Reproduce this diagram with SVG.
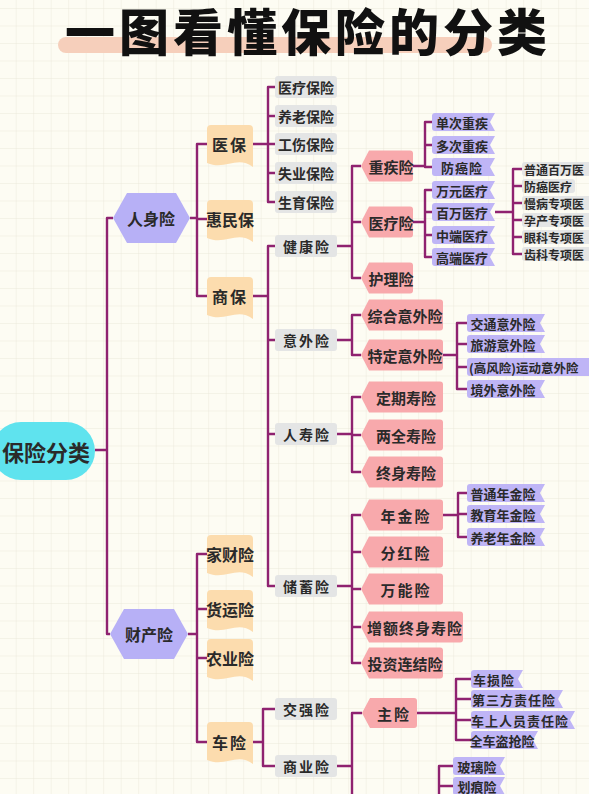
<svg xmlns="http://www.w3.org/2000/svg" xmlns:xlink="http://www.w3.org/1999/xlink" width="589" height="794" viewBox="0 0 589 794">
<style>
.c{fill:none;stroke:#8f2270;stroke-width:2.4;stroke-linejoin:round;stroke-linecap:butt}
.t{font-family:"Noto Sans CJK SC","Noto Sans",sans-serif;font-weight:700;fill:#2a2a2a;text-anchor:middle;dominant-baseline:central}
.s{text-anchor:start}
.f16{font-size:16px}
.f15{font-size:15px}
.f14{font-size:14px}
.f13{font-size:13px}
.f12{font-size:12px}
.gray{fill:#e4e5e5}
.pink{fill:#f8a9ac}
.pur{fill:#bfb5f6}
.org{fill:#fcdcae}
.hex{fill:#b7b0f6}
</style>
<defs>
<pattern id="grid" width="17.5" height="17.5" patternUnits="userSpaceOnUse" x="15.7" y="8">
<path d="M0 0H17.5M0 0V17.5" fill="none" stroke="#ece9dc" stroke-width="1"/>
</pattern>
<path id="p63" d="M3 0H63L58 9L63 18H3Q0 18 0 15V3Q0 0 3 0Z"/>
<path id="p78" d="M3 0H78L73 9L78 18H3Q0 18 0 15V3Q0 0 3 0Z"/>
<path id="p52" d="M3 0H52L47 9L52 18H3Q0 18 0 15V3Q0 0 3 0Z"/>
<path id="k52" d="M8 0H49Q52 0 52 3V28Q52 31 49 31H8L0 15.5Z"/>
<path id="k82" d="M8 0H79Q82 0 82 3V28Q82 31 79 31H8L0 15.5Z"/>
<path id="doc" d="M0 4Q0 0 4 0H42Q46 0 46 4V42C30 30 18 46 0 38Z"/>
<rect id="g62" width="62" height="22" rx="3"/>
</defs>
<rect width="589" height="794" fill="#fdfcf3"/>
<rect width="589" height="794" fill="url(#grid)"/>

<g id="title">
<rect x="58" y="37" width="434" height="16" rx="8" fill="#f6cfbb"/>
<text x="308" y="51" font-family="'Noto Sans CJK SC',sans-serif" font-weight="900" font-size="50" letter-spacing="4" text-anchor="middle" fill="#111">一图看懂保险的分类</text>
</g>

<g id="connectors">
<path class="c" d="M95 450H107M113 218H107V634H110"/>
<path class="c" d="M190 218H197M207 144H197V296H207M197 219H207"/>
<path class="c" d="M253 144H268M275 87H268V202H275M268 116H275M268 144H275M268 173H275"/>
<path class="c" d="M253 296H268M275 246H268V586H275M268 340H275M268 434H275"/>
<path class="c" d="M337 246H352M361 166H352V278H361M352 222H361"/>
<path class="c" d="M413 166H425M432 122H425V167H432M425 145H432"/>
<path class="c" d="M413 222H425M432 190H425V257H432M425 212H432M425 235H432"/>
<path class="c" d="M495 212H513M522 169H513V254H522M513 186H522M513 203H522M513 220H522M513 237H522"/>
<path class="c" d="M337 340H352M361 315H352V355H361"/>
<path class="c" d="M443 355H457M467 323H457V389H467M457 344H467M457 367H467"/>
<path class="c" d="M337 434H352M361 397H352V472H361M352 435H361"/>
<path class="c" d="M337 586H352M361 515H352V663H361M352 552H361M352 589H361M352 627H361"/>
<path class="c" d="M443 515H458M467 493H458V537H467M458 514H467"/>
<path class="c" d="M188 634H197M207 554H197V742H207M197 609H207M197 658H207"/>
<path class="c" d="M253 742H263M275 709H263V766H275"/>
<path class="c" d="M337 766H352M362 713H352V800"/>
<path class="c" d="M417 713H456M471 679H456V740H471M456 699H471M456 720H471"/>
<path class="c" d="M453 766H439V800M439 786H453"/>
</g>

<g id="root">
<rect x="-8" y="422" width="103" height="58" rx="29" fill="#5fe3ee"/>
<text class="t" x="46" y="451" font-size="22">保险分类</text>
</g>

<g id="renshen">
<polygon class="hex" points="113,218 127,193 176,193 190,218 176,243 127,243"/>
<text class="t f16" x="151" y="218">人身险</text>
</g>
<g id="caichan">
<polygon class="hex" points="110,634 124,609 174,609 188,634 174,659 124,659"/>
<text class="t f16" x="149" y="634">财产险</text>
</g>

<g id="yibao"><use href="#doc" class="org" x="207" y="125"/><text class="t f16" x="230" y="144" letter-spacing="2">医保</text></g>
<g id="huiminbao"><use href="#doc" class="org" x="207" y="200"/><text class="t f16" x="230" y="219">惠民保</text></g>
<g id="shangbao"><use href="#doc" class="org" x="207" y="277"/><text class="t f16" x="230" y="296" letter-spacing="2">商保</text></g>
<g id="jiacai"><use href="#doc" class="org" x="207" y="535"/><text class="t f16" x="230" y="554">家财险</text></g>
<g id="huoyun"><use href="#doc" class="org" x="207" y="590"/><text class="t f16" x="230" y="609">货运险</text></g>
<g id="nongye"><use href="#doc" class="org" x="207" y="639"/><text class="t f16" x="230" y="658">农业险</text></g>
<g id="chexian"><use href="#doc" class="org" x="207" y="722"/><text class="t f16" x="230" y="742" letter-spacing="2">车险</text></g>

<g id="yiliaobaoxian"><use href="#g62" class="gray" x="275" y="76"/><text class="t f14" x="306" y="87">医疗保险</text></g>
<g id="yanglaobaoxian"><use href="#g62" class="gray" x="275" y="105"/><text class="t f14" x="306" y="116">养老保险</text></g>
<g id="gongshang"><use href="#g62" class="gray" x="275" y="133"/><text class="t f14" x="306" y="144">工伤保险</text></g>
<g id="shiye"><use href="#g62" class="gray" x="275" y="162"/><text class="t f14" x="306" y="173">失业保险</text></g>
<g id="shengyu"><use href="#g62" class="gray" x="275" y="191"/><text class="t f14" x="306" y="202">生育保险</text></g>
<g id="jiankang"><use href="#g62" class="gray" x="275" y="235"/><text class="t f14" x="307" y="246" letter-spacing="2">健康险</text></g>
<g id="yiwai"><use href="#g62" class="gray" x="275" y="329"/><text class="t f14" x="307" y="340" letter-spacing="2">意外险</text></g>
<g id="renshou"><use href="#g62" class="gray" x="275" y="423"/><text class="t f14" x="307" y="434" letter-spacing="2">人寿险</text></g>
<g id="chuxu"><use href="#g62" class="gray" x="275" y="575"/><text class="t f14" x="307" y="586" letter-spacing="2">储蓄险</text></g>
<g id="jiaoqiang"><use href="#g62" class="gray" x="275" y="698"/><text class="t f14" x="307" y="709" letter-spacing="2">交强险</text></g>
<g id="shangye"><use href="#g62" class="gray" x="275" y="755"/><text class="t f14" x="307" y="766" letter-spacing="2">商业险</text></g>

<g id="zhongji"><use href="#k52" class="pink" x="361" y="150.5"/><text class="t f15" x="391" y="166">重疾险</text></g>
<g id="yiliaoxian"><use href="#k52" class="pink" x="361" y="206.5"/><text class="t f15" x="391" y="222">医疗险</text></g>
<g id="huli"><use href="#k52" class="pink" x="361" y="262.5"/><text class="t f15" x="391" y="278">护理险</text></g>
<g id="zonghe"><use href="#k82" class="pink" x="361" y="299.5"/><text class="t f15" x="405" y="315">综合意外险</text></g>
<g id="teding"><use href="#k82" class="pink" x="361" y="339.5"/><text class="t f15" x="405" y="355">特定意外险</text></g>
<g id="dingqi"><use href="#k82" class="pink" x="361" y="381.5"/><text class="t f15" x="406" y="397">定期寿险</text></g>
<g id="liangquan"><use href="#k82" class="pink" x="361" y="419.5"/><text class="t f15" x="406" y="435">两全寿险</text></g>
<g id="zhongshen"><use href="#k82" class="pink" x="361" y="456.5"/><text class="t f15" x="406" y="472">终身寿险</text></g>
<g id="nianjin"><use href="#k82" class="pink" x="361" y="499.5"/><text class="t f15" x="406" y="515" letter-spacing="2">年金险</text></g>
<g id="fenhong"><use href="#k82" class="pink" x="361" y="536.5"/><text class="t f15" x="406" y="552" letter-spacing="2">分红险</text></g>
<g id="wanneng"><use href="#k82" class="pink" x="361" y="573.5"/><text class="t f15" x="406" y="589" letter-spacing="2">万能险</text></g>
<g id="zenge"><path class="pink" d="M369 611.5H460Q463 611.5 463 614.5V639.5Q463 642.5 460 642.5H369L361 627Z"/><text class="t f15" x="415" y="627" letter-spacing="1">增额终身寿险</text></g>
<g id="touzi"><use href="#k82" class="pink" x="361" y="647.5"/><text class="t f15" x="405" y="663">投资连结险</text></g>
<g id="zhuxian"><path class="pink" d="M370 698H414Q417 698 417 701V725Q417 728 414 728H370L362 713Z"/><text class="t f15" x="394" y="713" letter-spacing="2">主险</text></g>

<g id="danci"><use href="#p63" class="pur" x="432" y="113"/><text class="t f13" x="462" y="122">单次重疾</text></g>
<g id="duoci"><use href="#p63" class="pur" x="432" y="136"/><text class="t f13" x="462" y="145">多次重疾</text></g>
<g id="fangai"><use href="#p63" class="pur" x="432" y="158"/><text class="t f13" x="462" y="167" letter-spacing="1">防癌险</text></g>
<g id="wanyuan"><use href="#p63" class="pur" x="432" y="181"/><text class="t f13" x="462" y="190">万元医疗</text></g>
<g id="baiwan"><use href="#p63" class="pur" x="432" y="203"/><text class="t f13" x="462" y="212">百万医疗</text></g>
<g id="zhongduan"><use href="#p63" class="pur" x="432" y="226"/><text class="t f13" x="462" y="235">中端医疗</text></g>
<g id="gaoduan"><use href="#p63" class="pur" x="432" y="248"/><text class="t f13" x="462" y="257">高端医疗</text></g>

<g id="putong"><rect class="gray" x="522" y="162" width="75" height="14" rx="3"/><text class="t s f12" x="524" y="169">普通百万医</text></g>
<g id="fangaiyiliao"><rect class="gray" x="522" y="179" width="53" height="14" rx="3"/><text class="t s f12" x="524" y="186">防癌医疗</text></g>
<g id="manbing"><rect class="gray" x="522" y="196" width="75" height="14" rx="3"/><text class="t s f12" x="524" y="203">慢病专项医</text></g>
<g id="yunchan"><rect class="gray" x="522" y="213" width="75" height="14" rx="3"/><text class="t s f12" x="524" y="220">孕产专项医</text></g>
<g id="yanke"><rect class="gray" x="522" y="230" width="75" height="14" rx="3"/><text class="t s f12" x="524" y="237">眼科专项医</text></g>
<g id="chike"><rect class="gray" x="522" y="247" width="75" height="14" rx="3"/><text class="t s f12" x="524" y="254">齿科专项医</text></g>

<g id="jiaotong"><use href="#p78" class="pur" x="467" y="314"/><text class="t f13" x="503" y="323">交通意外险</text></g>
<g id="lvyou"><use href="#p78" class="pur" x="467" y="335"/><text class="t f13" x="503" y="344">旅游意外险</text></g>
<g id="yundong"><path class="pur" d="M470 358H589V376H470Q467 376 467 373V361Q467 358 470 358Z"/><text class="t s" x="469" y="367" font-size="12.5">(高风险)运动意外险</text></g>
<g id="jingwai"><use href="#p78" class="pur" x="467" y="380"/><text class="t f13" x="503" y="389">境外意外险</text></g>

<g id="putongnj"><use href="#p78" class="pur" x="467" y="484"/><text class="t f13" x="503" y="493">普通年金险</text></g>
<g id="jiaoyunj"><use href="#p78" class="pur" x="467" y="505"/><text class="t f13" x="503" y="514">教育年金险</text></g>
<g id="yanglaonj"><use href="#p78" class="pur" x="467" y="528"/><text class="t f13" x="503" y="537">养老年金险</text></g>

<g id="chesun"><use href="#p52" class="pur" x="471" y="670"/><text class="t f13" x="494" y="679" letter-spacing="1">车损险</text></g>
<g id="disanfang"><path class="pur" d="M474 690H563L558 699L563 708H474Q471 708 471 705V693Q471 690 474 690Z"/><text class="t f13" x="514" y="699" letter-spacing="1">第三方责任险</text></g>
<g id="cheshang"><path class="pur" d="M474 711H575L570 720L575 729H474Q471 729 471 726V714Q471 711 474 711Z"/><text class="t f13" x="520" y="720" letter-spacing="1">车上人员责任险</text></g>
<g id="daoqiang"><path class="pur" d="M474 731H538L533 740L538 749H474Q471 749 471 746V734Q471 731 474 731Z"/><text class="t f13" x="502" y="740">全车盗抢险</text></g>
<g id="boli"><use href="#p52" class="pur" x="453" y="757"/><text class="t f13" x="477" y="766">玻璃险</text></g>
<g id="huahen"><use href="#p52" class="pur" x="453" y="777"/><text class="t f13" x="477" y="786">划痕险</text></g>
</svg>
